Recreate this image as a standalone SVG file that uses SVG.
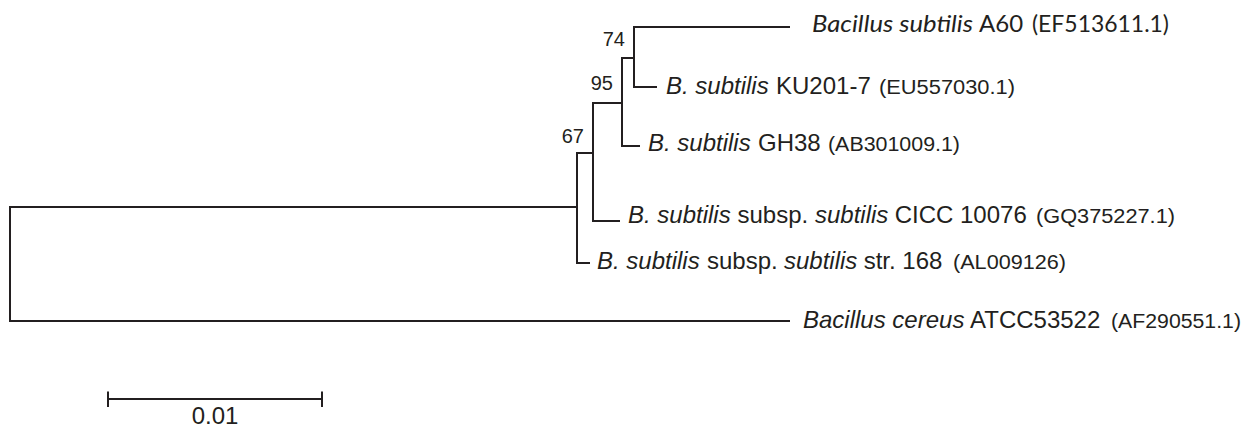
<svg xmlns="http://www.w3.org/2000/svg" width="1244" height="427" viewBox="0 0 1244 427">
<style>
text{fill:#231f20;font-family:"Liberation Sans",Arial,sans-serif;font-size:24px}
.it{font-style:italic}
.acc{font-size:20px}
.bs{font-size:20px}
.cal{font-family:Lato,"Open Sans",sans-serif;font-size:24px}
.br{fill:none;stroke:#231f20;stroke-width:2}
</style>
<rect width="1244" height="427" fill="#fff"/>
<g id="connectors">
<path class="br" d="M577,207 H10 V321 H790"/>
<path class="br" d="M593,153 H577 V263 H590"/>
<path class="br" d="M622,103 H593 V221 H620"/>
<path class="br" d="M634,58 H622 V146 H640"/>
<path class="br" d="M790,27 H634 V87 H657"/>
</g>
<g id="leaf-a60">
<text class="cal" y="32"><tspan x="812" class="it" textLength="161" lengthAdjust="spacingAndGlyphs">Bacillus subtilis</tspan><tspan x="979">A60</tspan><tspan x="1032" textLength="137" lengthAdjust="spacingAndGlyphs">(EF513611.1)</tspan></text>
</g>
<g id="leaf-ku201">
<text y="94"><tspan x="666" class="it">B. subtilis</tspan><tspan x="776">KU201-7</tspan><tspan x="879" class="acc" textLength="136" lengthAdjust="spacingAndGlyphs">(EU557030.1)</tspan></text>
</g>
<g id="leaf-gh38">
<text y="151"><tspan x="648" class="it">B. subtilis</tspan><tspan x="758">GH38</tspan><tspan x="828" class="acc" textLength="132" lengthAdjust="spacingAndGlyphs">(AB301009.1)</tspan></text>
</g>
<g id="leaf-cicc">
<text y="223"><tspan x="628" class="it">B. subtilis</tspan><tspan x="737.5">subsp.</tspan><tspan x="815" class="it">subtilis</tspan><tspan x="888"> CICC 10076</tspan><tspan x="1036" class="acc" textLength="139" lengthAdjust="spacingAndGlyphs">(GQ375227.1)</tspan></text>
</g>
<g id="leaf-str168">
<text y="269"><tspan x="597" class="it">B. subtilis</tspan><tspan x="707">subsp.</tspan><tspan x="784" class="it">subtilis</tspan><tspan x="857"> str. 168</tspan><tspan x="953" class="acc" textLength="113" lengthAdjust="spacingAndGlyphs">(AL009126)</tspan></text>
</g>
<g id="leaf-cereus">
<text y="328"><tspan x="803" class="it">Bacillus cereus</tspan><tspan x="970">ATCC53522</tspan><tspan x="1111" class="acc" textLength="130" lengthAdjust="spacingAndGlyphs">(AF290551.1)</tspan></text>
</g>
<g id="node-74"><text class="bs" x="625" y="46" text-anchor="end">74</text></g>
<g id="node-95"><text class="bs" x="613" y="90" text-anchor="end">95</text></g>
<g id="node-67"><text class="bs" x="584" y="143" text-anchor="end">67</text></g>
<g id="scale-bar">
<path class="br" d="M108,399 H322 M108,391.5 V407 M322,391.5 V407"/>
<text x="215" y="424" text-anchor="middle" font-size="19">0.01</text>
</g>
</svg>
